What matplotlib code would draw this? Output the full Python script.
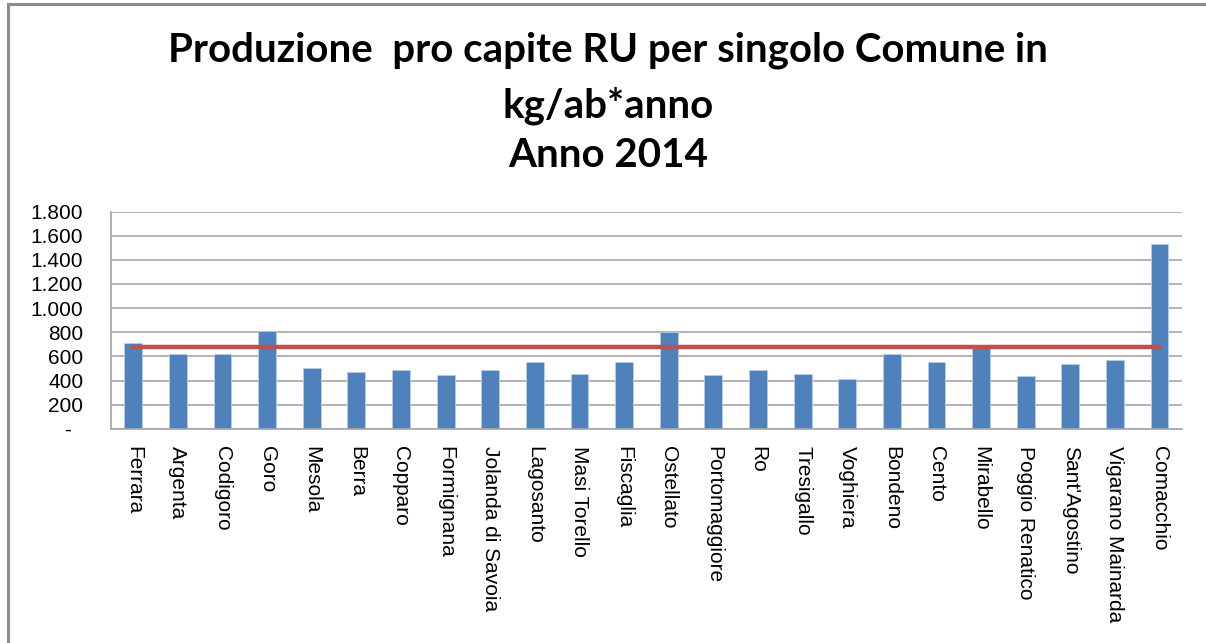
import matplotlib
matplotlib.use("Agg")
from matplotlib import pyplot as plt
from matplotlib.lines import Line2D

comuni = ["Ferrara", "Argenta", "Codigoro", "Goro", "Mesola", "Berra", "Copparo",
          "Formignana", "Jolanda di Savoia", "Lagosanto", "Masi Torello", "Fiscaglia",
          "Ostellato", "Portomaggiore", "Ro", "Tresigallo", "Voghiera", "Bondeno",
          "Cento", "Mirabello", "Poggio Renatico", "Sant'Agostino",
          "Vigarano Mainarda", "Comacchio"]
kg_ab = [710, 619, 619, 807, 503, 475, 484, 448, 484, 553, 456, 553,
         804, 448, 484, 456, 417, 619, 553, 668, 437, 541, 569, 1531]
media = [677] * len(comuni)

yticks = [0, 200, 400, 600, 800, 1000, 1200, 1400, 1600, 1800]
ylabels = ["-  ", "200", "400", "600", "800", "1.000", "1.200", "1.400", "1.600", "1.800"]

fig = plt.figure(figsize=(12.06, 6.43), dpi=100)
ax = fig.add_axes([0.092, 0.333, 0.888, 0.338])

x = range(len(comuni))
ax.bar(x, kg_ab, width=0.4, color="#4F81BD", edgecolor="#B9CDE5", linewidth=0.6, zorder=2)
ax.plot(x, media, color="#C0504D", linewidth=3.2, zorder=3)

ax.set_xlim(-0.5, len(comuni) - 0.5)
ax.set_ylim(0, 1800)
ax.set_yticks(yticks)
ax.set_yticklabels(ylabels, fontsize=15, family="Liberation Sans")
ax.set_xticks(list(x))
ax.set_xticklabels(comuni, rotation=-90, fontsize=15, family="Liberation Sans",
                   va="top", ha="center")
ax.tick_params(axis="both", length=0)
ax.tick_params(axis="y", pad=20)
ax.tick_params(axis="x", pad=12)
ax.grid(axis="y", color="#A6A6A6", linewidth=1.2, zorder=0)
ax.set_axisbelow(True)
for s in ["top", "right"]:
    ax.spines[s].set_visible(False)
for s in ["left", "bottom"]:
    ax.spines[s].set_color("#A6A6A6")
    ax.spines[s].set_linewidth(1.2)

titolo = ["Produzione  pro capite RU per singolo Comune in", "kg/ab*anno", "Anno 2014"]
for riga, yb in zip(titolo, [0.904, 0.818, 0.740]):
    fig.text(0.504, yb, riga, ha="center", va="baseline", fontsize=29,
             fontweight="bold", family="Lato")

# bordo grigio del riquadro
fig.add_artist(Line2D([0.007, 1.0], [0.994, 0.994], color="#8C8C8C", linewidth=2.2))
fig.add_artist(Line2D([0.007, 0.007], [0.0, 0.994], color="#8C8C8C", linewidth=2.2))

fig.savefig("out.png", dpi=100)
